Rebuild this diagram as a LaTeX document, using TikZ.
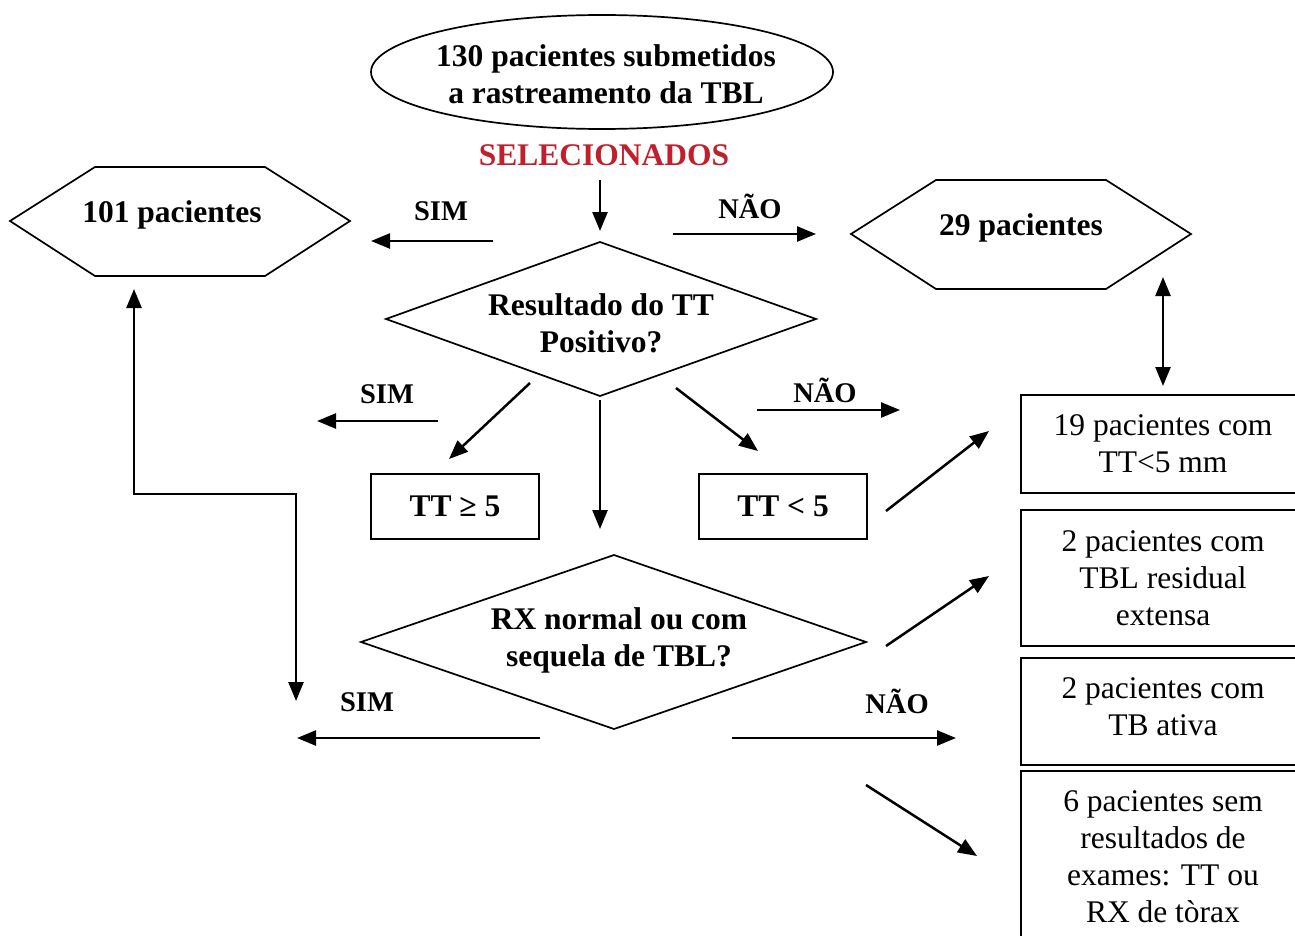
\documentclass[tikz,border=0pt]{standalone}
\usepackage{fontspec}
\setmainfont{Liberation Serif}
\usetikzlibrary{arrows.meta}
\definecolor{selred}{RGB}{192,32,44}
\begin{document}
\begin{tikzpicture}[x=1pt,y=-1pt,
  shp/.style={line width=1.7pt, line join=miter},
  arr/.style={line width=2.5pt,-{Triangle[length=19pt,width=15pt]}},
  darr/.style={line width=2.5pt,{Triangle[length=19pt,width=15pt]}-{Triangle[length=19pt,width=15pt]}},
  bt/.style={font=\fontsize{31.5}{37}\selectfont\bfseries, align=center, inner sep=0},
  rt/.style={font=\fontsize{31.5}{37}\selectfont, align=center, inner sep=0},
  lbl/.style={font=\fontsize{28.5}{32}\selectfont\bfseries, inner sep=0},
  sbox/.style={draw, line width=1.7pt, minimum width=168pt, minimum height=65pt, inner sep=0},
]
\useasboundingbox (0,0) rectangle (1295,936);

% top ellipse
\draw[shp] (602,72) ellipse [x radius=231, y radius=57];
\node[bt] (start) at (606,74) {130 pacientes submetidos\\a rastreamento da TBL};
\node[bt, text=selred] (sel) at (604,155) {SELECIONADOS};

% diamond 1
\draw[shp] (600,242) -- (816,319) -- (600,396) -- (386,319) -- cycle;
\node[bt] (d1) at (601,323) {Resultado do TT\\Positivo?};

% diamond 2
\draw[shp] (614,555) -- (866,642) -- (614,729) -- (361,642) -- cycle;
\node[bt] (d2) at (619,640) {RX normal ou com\\sequela de TBL?};

% hexagons
\draw[shp] (10,221) -- (95,167) -- (265,167) -- (350,221) -- (265,276) -- (95,276) -- cycle;
\node[bt] (h1) at (172,215) {101 pacientes};
\draw[shp] (851,234) -- (936,180) -- (1106,180) -- (1191,234) -- (1106,289) -- (936,289) -- cycle;
\node[bt] (h2) at (1021,228) {29 pacientes};

% small boxes
\node[sbox, bt] (ttge) at (455,506.5) {TT ≥ 5};
\node[sbox, bt] (ttlt) at (783,506.5) {TT < 5};

% right boxes
\draw[shp] (1021,395) rectangle (1320,493);
\node[rt] (r1) at (1163,444) {19 pacientes com\\TT<5 mm};
\draw[shp] (1021,510) rectangle (1320,646);
\node[rt] (r2) at (1163,578) {2 pacientes com\\TBL residual\\extensa};
\draw[shp] (1021,658) rectangle (1320,765);
\node[rt] (r3) at (1163,707) {2 pacientes com\\TB ativa};
\draw[shp] (1021,771) rectangle (1320,960);
\node[rt] (r4) at (1163,857) {6 pacientes sem\\resultados de\\exames: TT ou\\RX de tòrax};

% labels
\node[lbl] (sim1) at (441,211) {SIM};
\node[lbl] (nao1) at (750,206) {NÃO};
\node[lbl] (sim2) at (387,394) {SIM};
\node[lbl] (nao2) at (825,390) {NÃO};
\node[lbl] (sim3) at (367,702) {SIM};
\node[lbl] (nao3) at (897,701) {NÃO};

% arrow endpoints
\coordinate (a1s) at (600,180); \coordinate (a1e) at (600,231);
\coordinate (a2s) at (493,241); \coordinate (a2e) at (371,241);
\coordinate (a3s) at (673,234); \coordinate (a3e) at (816,234);
\coordinate (a4s) at (1163,277); \coordinate (a4e) at (1163,386);
\coordinate (a5s) at (438,421); \coordinate (a5e) at (317,421);
\coordinate (a6s) at (757,410); \coordinate (a6e) at (900,410);
\coordinate (a7s) at (530,383); \coordinate (a7e) at (449,459);
\coordinate (a8s) at (676,388); \coordinate (a8e) at (758,451);
\coordinate (a9s) at (600,400); \coordinate (a9e) at (600,529);
\coordinate (a10s) at (886,511); \coordinate (a10e) at (989,431);
\coordinate (a11s) at (886,646); \coordinate (a11e) at (989,576);
\coordinate (a12s) at (540,738); \coordinate (a12e) at (297,738);
\coordinate (a13s) at (732,738); \coordinate (a13e) at (956,738);
\coordinate (a14s) at (866,785); \coordinate (a14e) at (977,856);
\coordinate (e1) at (134,289); \coordinate (e2) at (134,494);
\coordinate (e3) at (296,494); \coordinate (e4) at (296,701);

\draw[arr] (a1s) -- (a1e);
\draw[arr] (a2s) -- (a2e);
\draw[arr] (a3s) -- (a3e);
\draw[darr] (a4s) -- (a4e);
\draw[arr] (a5s) -- (a5e);
\draw[arr] (a6s) -- (a6e);
\draw[arr] (a7s) -- (a7e);
\draw[arr] (a8s) -- (a8e);
\draw[arr] (a9s) -- (a9e);
\draw[arr] (a10s) -- (a10e);
\draw[arr] (a11s) -- (a11e);
\draw[arr] (a12s) -- (a12e);
\draw[arr] (a13s) -- (a13e);
\draw[arr] (a14s) -- (a14e);
\draw[darr, line join=miter] (e1) -- (e2) -- (e3) -- (e4);
\end{tikzpicture}
\end{document}
